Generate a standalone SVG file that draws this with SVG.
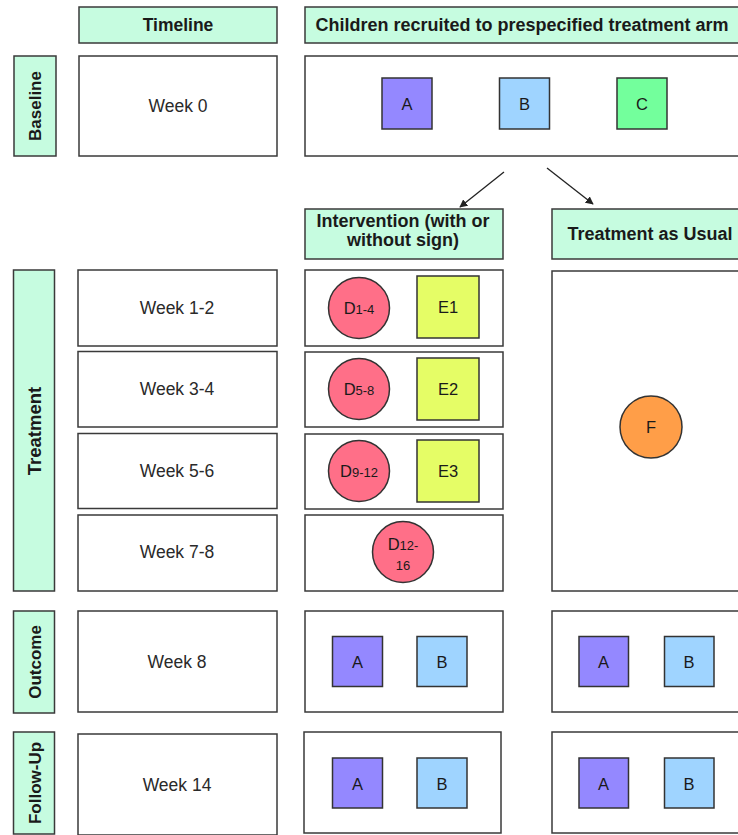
<svg xmlns="http://www.w3.org/2000/svg" width="738" height="835" viewBox="0 0 738 835">
  <defs>
    <style>
      .hdr { fill: #C6FCE0; stroke: #3a3a3a; stroke-width: 1.5; }
      .box { fill: #ffffff; stroke: #3a3a3a; stroke-width: 1.5; }
      .sq  { stroke: #333333; stroke-width: 1.5; }
      .a { fill: #9488FF; }
      .b { fill: #9FD4FF; }
      .c { fill: #73FF9C; }
      .d { fill: #FF6F88; }
      .e { fill: #E5FD66; }
      .f { fill: #FF9E48; }
      text { font-family: "Liberation Sans", Arial, sans-serif; fill: #1a1a1a; }
      .ht { font-size: 18px; font-weight: bold; text-anchor: middle; }
      .vt { font-size: 17px; font-weight: bold; text-anchor: middle; }
      .wk { font-size: 17.5px; text-anchor: middle; fill: #2a2a2a; }
      .lb { font-size: 16.5px; text-anchor: middle; }
      .sub { font-size: 13px; }
      .conn { stroke: #222222; stroke-width: 1.3; fill: none; }
    </style>
    <marker id="arrow" viewBox="0 0 10 10" refX="9" refY="5" markerWidth="8" markerHeight="8" orient="auto" markerUnits="userSpaceOnUse">
      <path d="M0,0 L10,5 L0,10 z" fill="#222222"/>
    </marker>
  </defs>

  <rect width="738" height="835" fill="#ffffff"/>

  <!-- column headers -->
  <g id="hdr-timeline">
    <rect class="hdr" x="79" y="7" width="198" height="36"/>
    <text class="ht" style="font-size:17.5px" x="178" y="31">Timeline</text>
  </g>
  <g id="hdr-recruited">
    <rect class="hdr" x="305" y="7" width="440" height="36"/>
    <text class="ht" x="522" y="31">Children recruited to prespecified treatment arm</text>
  </g>

  <!-- phase labels -->
  <g id="phase-baseline">
    <rect class="hdr" x="14" y="56" width="42" height="100"/>
    <text class="vt" transform="translate(41 106) rotate(-90)">Baseline</text>
  </g>
  <g id="phase-treatment">
    <rect class="hdr" x="13.5" y="270" width="41" height="321"/>
    <text class="vt" style="font-size:18.5px" transform="translate(40.5 431) rotate(-90)">Treatment</text>
  </g>
  <g id="phase-outcome">
    <rect class="hdr" x="13.5" y="611" width="41" height="102"/>
    <text class="vt" transform="translate(40.5 662) rotate(-90)">Outcome</text>
  </g>
  <g id="phase-followup">
    <rect class="hdr" x="13.5" y="732" width="41" height="102"/>
    <text class="vt" transform="translate(40.5 783) rotate(-90)">Follow-Up</text>
  </g>

  <!-- timeline column -->
  <g id="week-0">
    <rect class="box" x="79" y="56" width="198" height="100"/>
    <text class="wk" x="178" y="112">Week 0</text>
  </g>
  <g id="week-1-2">
    <rect class="box" x="78" y="270" width="199" height="76"/>
    <text class="wk" x="177" y="314">Week 1-2</text>
  </g>
  <g id="week-3-4">
    <rect class="box" x="78" y="351.5" width="199" height="75.5"/>
    <text class="wk" x="177" y="395">Week 3-4</text>
  </g>
  <g id="week-5-6">
    <rect class="box" x="78" y="433.5" width="199" height="75"/>
    <text class="wk" x="177" y="477">Week 5-6</text>
  </g>
  <g id="week-7-8">
    <rect class="box" x="78" y="515" width="199" height="76"/>
    <text class="wk" x="177" y="558">Week 7-8</text>
  </g>
  <g id="week-8">
    <rect class="box" x="78" y="611" width="199" height="101"/>
    <text class="wk" x="177" y="668">Week 8</text>
  </g>
  <g id="week-14">
    <rect class="box" x="78" y="734" width="199" height="101"/>
    <text class="wk" x="177" y="791">Week 14</text>
  </g>

  <!-- baseline assessments -->
  <g id="baseline-arm">
    <rect class="box" x="305" y="56" width="440" height="100"/>
    <rect class="sq a" x="382" y="78" width="50" height="51"/>
    <text class="lb" x="407" y="109.5">A</text>
    <rect class="sq b" x="499.5" y="78" width="50" height="51"/>
    <text class="lb" x="524.5" y="109.5">B</text>
    <rect class="sq c" x="617" y="78" width="50" height="51"/>
    <text class="lb" x="642" y="109.5">C</text>
  </g>

  <!-- allocation arrows -->
  <g id="connectors">
    <line class="conn" x1="504" y1="172" x2="460" y2="207" marker-end="url(#arrow)"/>
    <line class="conn" x1="547" y1="168" x2="593" y2="204" marker-end="url(#arrow)"/>
  </g>

  <!-- arm headers -->
  <g id="hdr-intervention">
    <rect class="hdr" x="305" y="209" width="198" height="50"/>
    <text class="ht" x="403" y="227">Intervention (with or</text>
    <text class="ht" x="403" y="246">without sign)</text>
  </g>
  <g id="hdr-tau">
    <rect class="hdr" x="552" y="209" width="195" height="50"/>
    <text class="ht" x="650" y="240">Treatment as Usual</text>
  </g>

  <!-- intervention arm sessions -->
  <g id="int-week-1-2">
    <rect class="box" x="305" y="270" width="198" height="76"/>
    <circle class="sq d" cx="359" cy="308" r="30.5"/>
    <text class="lb" x="359" y="314">D<tspan class="sub">1-4</tspan></text>
    <rect class="sq e" x="417" y="276" width="62" height="62"/>
    <text class="lb" x="448" y="313">E1</text>
  </g>
  <g id="int-week-3-4">
    <rect class="box" x="305" y="352" width="198" height="75"/>
    <circle class="sq d" cx="359" cy="389" r="30.5"/>
    <text class="lb" x="359" y="395">D<tspan class="sub">5-8</tspan></text>
    <rect class="sq e" x="417" y="358" width="62" height="62"/>
    <text class="lb" x="448" y="395">E2</text>
  </g>
  <g id="int-week-5-6">
    <rect class="box" x="305" y="434" width="198" height="75"/>
    <circle class="sq d" cx="359" cy="471" r="30.5"/>
    <text class="lb" x="359" y="477">D<tspan class="sub">9-12</tspan></text>
    <rect class="sq e" x="417" y="440" width="62" height="62"/>
    <text class="lb" x="448" y="477">E3</text>
  </g>
  <g id="int-week-7-8">
    <rect class="box" x="305" y="515" width="198" height="76"/>
    <circle class="sq d" cx="403" cy="552" r="30.5"/>
    <text class="lb" x="403" y="550">D<tspan class="sub">12-</tspan></text>
    <text class="lb sub" x="403" y="570">16</text>
  </g>

  <!-- treatment as usual -->
  <g id="tau-treatment">
    <rect class="box" x="552" y="271" width="195" height="320"/>
    <circle class="sq f" cx="651" cy="427" r="31"/>
    <text class="lb" x="651" y="433">F</text>
  </g>

  <!-- outcome assessments -->
  <g id="int-outcome">
    <rect class="box" x="305" y="611" width="198" height="101"/>
    <rect class="sq a" x="332.5" y="636.5" width="50" height="50"/>
    <text class="lb" x="357.5" y="667.5">A</text>
    <rect class="sq b" x="417" y="636.5" width="50" height="50"/>
    <text class="lb" x="442" y="667.5">B</text>
  </g>
  <g id="tau-outcome">
    <rect class="box" x="552" y="611" width="195" height="101"/>
    <rect class="sq a" x="579" y="636.5" width="49.5" height="50"/>
    <text class="lb" x="603.5" y="667.5">A</text>
    <rect class="sq b" x="664.5" y="636.5" width="49.5" height="50"/>
    <text class="lb" x="689" y="667.5">B</text>
  </g>

  <!-- follow-up assessments -->
  <g id="int-followup">
    <rect class="box" x="304" y="732" width="197" height="101"/>
    <rect class="sq a" x="332.5" y="758" width="50" height="50"/>
    <text class="lb" x="357.5" y="789.5">A</text>
    <rect class="sq b" x="417" y="758" width="50" height="50"/>
    <text class="lb" x="442" y="789.5">B</text>
  </g>
  <g id="tau-followup">
    <rect class="box" x="552" y="732" width="195" height="101"/>
    <rect class="sq a" x="579" y="758" width="49.5" height="50"/>
    <text class="lb" x="603.5" y="789.5">A</text>
    <rect class="sq b" x="664.5" y="758" width="49.5" height="50"/>
    <text class="lb" x="689" y="789.5">B</text>
  </g>
</svg>
